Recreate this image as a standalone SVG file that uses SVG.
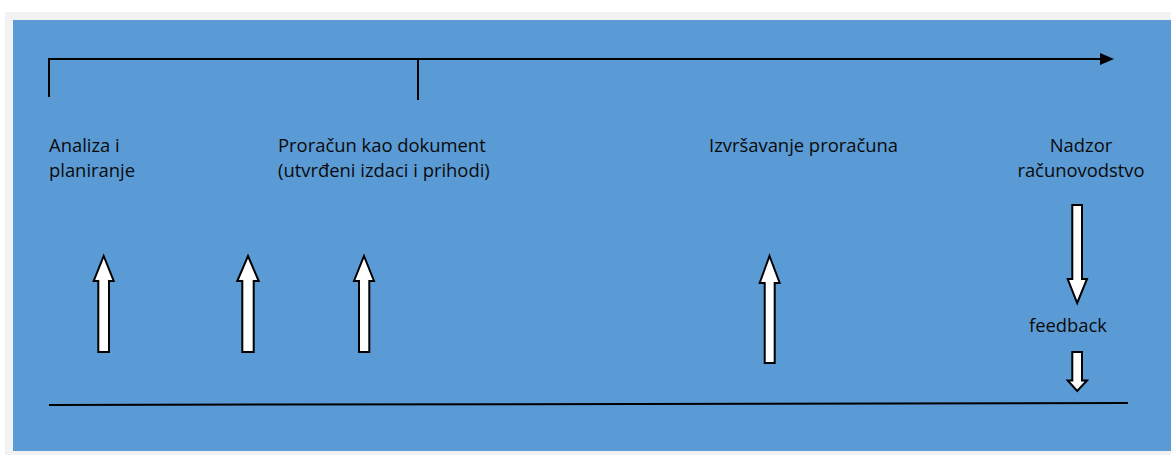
<svg xmlns="http://www.w3.org/2000/svg" width="1171" height="455" viewBox="0 0 1171 455">
<style>
.t{font-family:"Open Sans","Noto Sans","Liberation Sans",sans-serif;font-size:18.4px;fill:#0a0a0a}
.ln{stroke:#000;stroke-width:2;fill:none}
.ar{fill:#fff;stroke:#000;stroke-width:2;stroke-linejoin:miter}
</style>
<rect x="0" y="0" width="1171" height="455" fill="#fff"/>
<rect x="5" y="12" width="1166" height="443" fill="#f2f2f2"/>
<rect x="13" y="20" width="1158" height="431" fill="#5b9bd5"/>
<g id="connectors">
<path class="ln" d="M49,97 V59 H1100"/>
<path d="M1100,53 L1114,59 L1100,65 Z" fill="#000"/>
<path class="ln" d="M418,59 V100"/>
<path class="ln" d="M49,405 L1128,403"/>
</g>
<g id="n-analiza"><text class="t" x="49" y="152">Analiza i</text><text class="t" x="49" y="177">planiranje</text></g>
<g id="n-proracun"><text class="t" x="278" y="152">Proračun kao dokument</text><text class="t" x="278" y="177">(utvrđeni izdaci i prihodi)</text></g>
<g id="n-izvrsavanje"><text class="t" x="709" y="152">Izvršavanje proračuna</text></g>
<g id="n-nadzor"><text class="t" x="1081" y="152" text-anchor="middle">Nadzor</text><text class="t" x="1081" y="177" text-anchor="middle">računovodstvo</text></g>
<g id="n-feedback"><text class="t" x="1068" y="332" text-anchor="middle">feedback</text></g>
<g id="arrows">
<path class="ar" d="M103.7,256 L113.7,281 L109,281 L109,352 L98.3,352 L98.3,281 L93.7,281 Z"/>
<path class="ar" d="M248,256 L258.7,281 L253.7,281 L253.7,352 L242.3,352 L242.3,281 L237.3,281 Z"/>
<path class="ar" d="M364,256 L374,281 L369.3,281 L369.3,352 L359,352 L359,281 L354,281 Z"/>
<path class="ar" d="M769.5,256 L779.7,283 L774.7,283 L774.7,363 L764.7,363 L764.7,283 L759.7,283 Z"/>
<path class="ar" d="M1072.3,205 L1082,205 L1082,279 L1087,279 L1077.2,303 L1067.7,279 L1072.3,279 Z"/>
<path class="ar" d="M1072.3,352 L1082,352 L1082,380.5 L1087,380.5 L1077.2,391 L1067.7,380.5 L1072.3,380.5 Z"/>
</g>
</svg>
